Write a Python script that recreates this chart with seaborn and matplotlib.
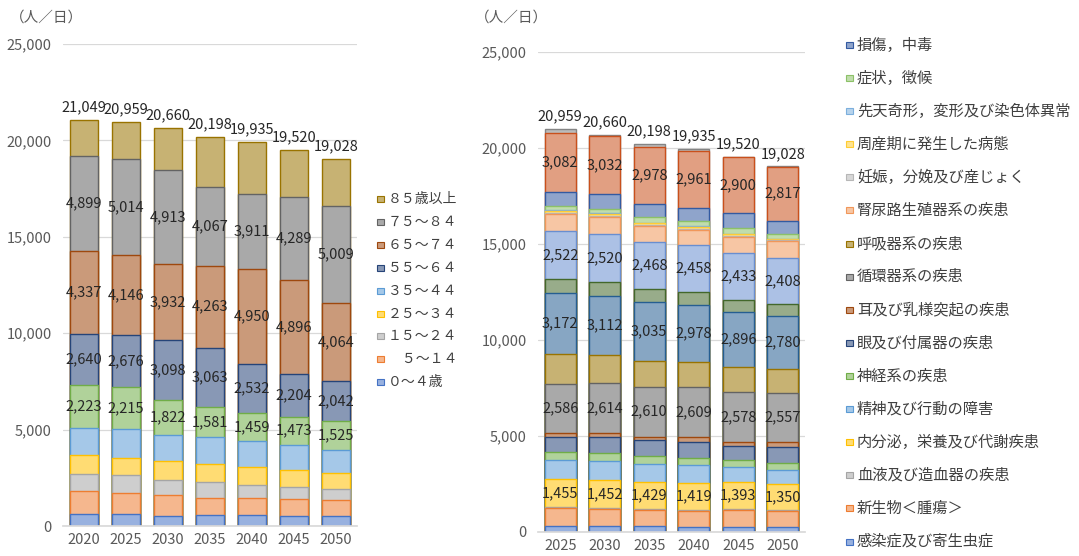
import numpy as np
import matplotlib
matplotlib.use("Agg")
import matplotlib.pyplot as plt
from matplotlib.patches import Rectangle
from matplotlib.colors import to_rgb
import seaborn as sns

sns.set_theme(style="white")
plt.rcParams['font.family'] = ['Noto Sans CJK JP', 'DejaVu Sans']

### left chart: age groups (人/日)
years_age = ['2020', '2025', '2030', '2035', '2040', '2045', '2050']
a0_4 = [640, 620, 536, 570, 570, 536, 536]
a5_14 = [1190, 1110, 1054, 900, 900, 882, 813]
a15_24 = [870, 900, 795, 795, 657, 588, 570]
a25_34 = [1000, 900, 1003, 950, 916, 899, 813]
a35_44 = [1380, 1480, 1331, 1383, 1349, 1297, 1210]
a45_54 = [2223, 2215, 1822, 1581, 1459, 1473, 1525]
a55_64 = [2640, 2676, 3098, 3063, 2532, 2204, 2042]
a65_74 = [4337, 4146, 3932, 4263, 4950, 4896, 4064]
a75_84 = [4899, 5014, 4913, 4067, 3911, 4289, 5009]
a85 = [1870, 1898, 2176, 2626, 2691, 2456, 2446]
age_names = ['０～４歳', '　５～１４', '１５～２４', '２５～３４', '３５～４４',
             '４５～５４', '５５～６４', '６５～７４', '７５～８４', '８５歳以上']
age_labelled = ['４５～５４', '５５～６４', '６５～７４', '７５～８４']
age_legend = ['８５歳以上', '７５～８４', '６５～７４', '５５～６４', '３５～４４',
              '２５～３４', '１５～２４', '　５～１４', '０～４歳']

### right chart: disease groups (人/日)
years_dis = ['2025', '2030', '2035', '2040', '2045', '2050']
inf = [320, 300, 290, 270, 270, 260]
neo = [903, 900, 850, 820, 860, 820]
blood = [45, 45, 45, 45, 45, 45]
endo = [1455, 1452, 1429, 1419, 1393, 1350]
mental = [990, 970, 930, 900, 781, 729]
nerve = [434, 430, 390, 380, 400, 400]
eye = [800, 850, 820, 848, 739, 800]
ear = [170, 170, 190, 250, 200, 250]
circ = [2586, 2614, 2610, 2609, 2578, 2557]
resp = [1545, 1450, 1360, 1300, 1300, 1250]
digest = [3172, 3112, 3035, 2978, 2896, 2780]
skin = [720, 700, 680, 660, 620, 600]
musc = [2522, 2520, 2468, 2458, 2433, 2408]
uro = [900, 900, 830, 800, 850, 880]
preg = [50, 50, 50, 45, 45, 40]
peri = [80, 80, 80, 75, 70, 65]
cong = [40, 40, 40, 40, 40, 35]
symp = [230, 250, 280, 300, 290, 260]
injury = [730, 739, 702, 656, 790, 672]
factor = [3082, 3032, 2978, 2961, 2900, 2817]
other = [185, 56, 141, 121, 20, 10]
dis_names = ['感染症及び寄生虫症', '新生物＜腫瘍＞', '血液及び造血器の疾患',
             '内分泌，栄養及び代謝疾患', '精神及び行動の障害', '神経系の疾患',
             '眼及び付属器の疾患', '耳及び乳様突起の疾患', '循環器系の疾患',
             '呼吸器系の疾患', '消化器系の疾患', '皮膚及び皮下組織の疾患',
             '筋骨格系及び結合組織の疾患', '腎尿路生殖器系の疾患',
             '妊娠，分娩及び産じょく', '周産期に発生した病態',
             '先天奇形，変形及び染色体異常', '症状，徴候', '損傷，中毒',
             '健康状態に影響を及ぼす要因', 'その他']
dis_labelled = ['内分泌，栄養及び代謝疾患', '循環器系の疾患', '消化器系の疾患',
                '筋骨格系及び結合組織の疾患', '健康状態に影響を及ぼす要因']
dis_legend = ['損傷，中毒', '症状，徴候', '先天奇形，変形及び染色体異常',
              '周産期に発生した病態', '妊娠，分娩及び産じょく', '腎尿路生殖器系の疾患',
              '呼吸器系の疾患', '循環器系の疾患', '耳及び乳様突起の疾患',
              '眼及び付属器の疾患', '神経系の疾患', '精神及び行動の障害',
              '内分泌，栄養及び代謝疾患', '血液及び造血器の疾患', '新生物＜腫瘍＞',
              '感染症及び寄生虫症']

# excel-like series colours
pal = ['#4472C4', '#ED7D31', '#A5A5A5', '#FFC000', '#5B9BD5', '#70AD47',
       '#264478', '#9E480E', '#636363', '#997300', '#255E91', '#43682B',
       '#698ED0', '#F1975A', '#B7B7B7', '#FFCD33', '#7CAFDD', '#8CC168',
       '#335AA1', '#C9501C', '#848484']

W, H = 1079, 556
TXT = '#262626'
TICK = '#595959'


def light(c, a=0.55):
    r = np.array(to_rgb(c))
    return tuple(r * a + (1 - a))


def stacked(ax, cats, series, names, labelled, width):
    tops = np.cumsum(np.array(series, dtype=float), axis=0)
    # draw from the top down, each lower bar covers the one before
    for k in range(len(series) - 1, -1, -1):
        sns.barplot(x=cats, y=tops[k], color=light(pal[k]), edgecolor=pal[k],
                    linewidth=1, saturation=1, width=width, errorbar=None, ax=ax)
    for k, nm in enumerate(names):
        if nm in labelled:
            for i, v in enumerate(series[k]):
                ax.text(i, tops[k][i] - v / 2, f"{v:,}", ha='center', va='center',
                        fontsize=10.5, color=TXT)
    for i, t in enumerate(tops[-1]):
        ax.annotate(f"{int(t):,}", (i, t), xytext=(0, 4), textcoords='offset points',
                    ha='center', va='bottom', fontsize=10.5, color=TXT)
    ax.set_ylim(0, 25000)
    ax.set_yticks(range(0, 25001, 5000))
    ax.set_yticklabels([f"{v:,}" for v in range(0, 25001, 5000)])
    ax.yaxis.grid(True, color='#D9D9D9', lw=0.9)
    ax.set_axisbelow(True)
    for s in ['top', 'right', 'left']:
        ax.spines[s].set_visible(False)
    ax.spines['bottom'].set_color('#D9D9D9')
    ax.tick_params(axis='both', length=0, labelsize=10.5, labelcolor=TICK)
    ax.tick_params(axis='y', pad=8)
    ax.tick_params(axis='x', pad=5)
    ax.set_xlabel('')
    ax.set_ylabel('')


def legend(fig, entries, names, x0, y0, step, fs):
    for j, nm in enumerate(entries):
        k = names.index(nm)
        y = y0 + j * step
        fig.patches.append(Rectangle((x0 / W, 1 - (y + 3) / H), 7 / W, 6 / H,
                                     transform=fig.transFigure, facecolor=light(pal[k]),
                                     edgecolor=pal[k], lw=0.8))
        fig.text((x0 + 11) / W, 1 - y / H, nm, ha='left', va='center',
                 fontsize=fs, color='#404040')


fig = plt.figure(figsize=(W / 100, H / 100), dpi=100)

ax1 = fig.add_axes([63 / W, 1 - 526 / H, 294 / W, 482 / H])
stacked(ax1, years_age, [a0_4, a5_14, a15_24, a25_34, a35_44, a45_54, a55_64,
                         a65_74, a75_84, a85], age_names, age_labelled, 0.69)
fig.text(10 / W, 1 - 18 / H, '（人／日）', ha='left', va='center', fontsize=10.5, color=TICK)
legend(fig, age_legend, age_names, 377, 199, 22.9, 10)

ax2 = fig.add_axes([538 / W, 1 - 531.7 / H, 267 / W, 480 / H])
stacked(ax2, years_dis, [inf, neo, blood, endo, mental, nerve, eye, ear, circ, resp,
                         digest, skin, musc, uro, preg, peri, cong, symp, injury,
                         factor, other], dis_names, dis_labelled, 0.70)
fig.text(475 / W, 1 - 18 / H, '（人／日）', ha='left', va='center', fontsize=10.5, color=TICK)
legend(fig, dis_legend, dis_names, 846, 45, 33.1, 11)

fig.savefig('out.png', dpi=100)
